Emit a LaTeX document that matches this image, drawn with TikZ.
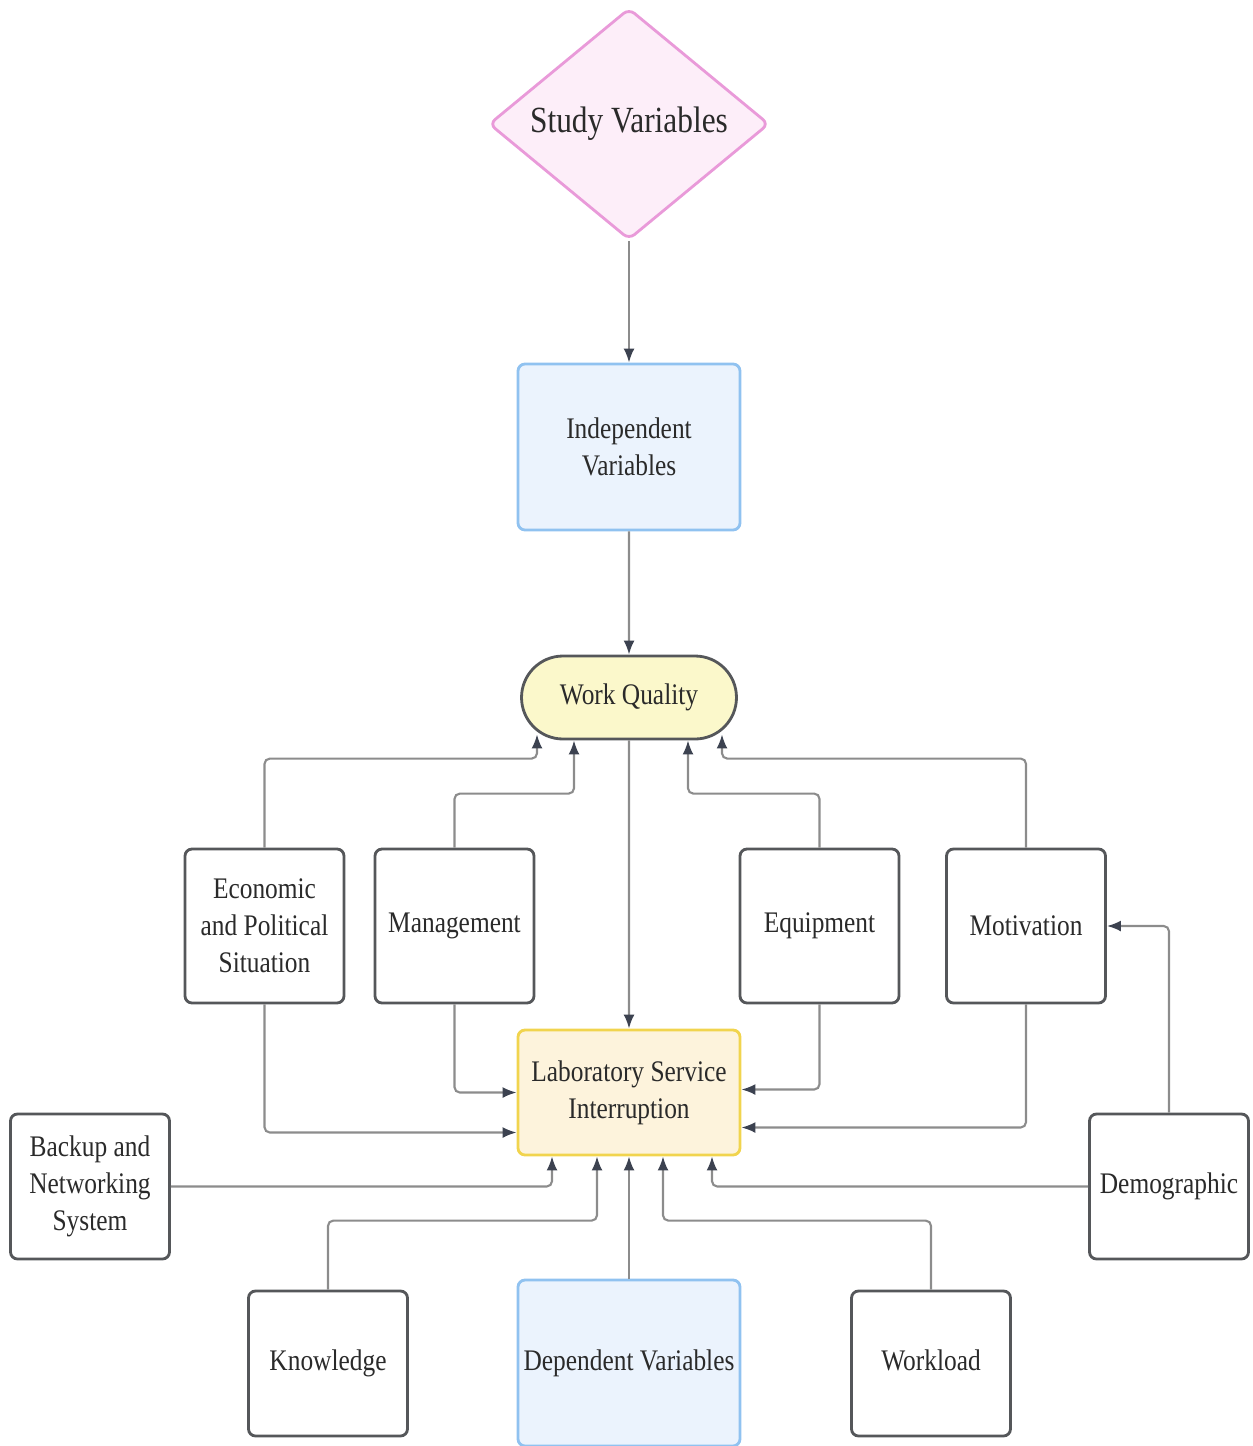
\documentclass[tikz,border=0pt]{standalone}
\usepackage{fontspec}
\setmainfont[FakeStretch=0.85]{Liberation Serif}
\usepackage{xcolor}
\usetikzlibrary{shapes.geometric, shapes.misc, arrows.meta, positioning}
\definecolor{txtgray}{HTML}{2A2A2A}
\definecolor{boxedge}{HTML}{55575A}
\definecolor{linegray}{HTML}{8C8C8C}
\definecolor{tipgray}{HTML}{3C4250}
\definecolor{pinkfill}{HTML}{FDEEF9}
\definecolor{pinkedge}{HTML}{E99AD9}
\definecolor{bluefill}{HTML}{EBF3FD}
\definecolor{blueedge}{HTML}{90C2F0}
\definecolor{wqfill}{HTML}{FBF8CB}
\definecolor{labfill}{HTML}{FDF3DC}
\definecolor{labedge}{HTML}{F1D44E}
\tikzset{
  font=\fontsize{8.5}{10.5}\selectfont,      % narrow serif labels
  every node/.style = {text=txtgray},
  studyshape/.style = {diamond, draw=pinkedge, fill=pinkfill, line width=0.8pt,
                       rounded corners=2pt, minimum width=28mm, minimum height=22.8mm,
                       inner sep=0pt, font=\fontsize{10.5}{12.5}\selectfont},
  bluebox/.style    = {rectangle, draw=blueedge, fill=bluefill, line width=0.8pt,
                       rounded corners=2pt, minimum width=22.2mm, minimum height=16.6mm,
                       align=center, inner sep=1pt},
  wqpill/.style     = {rounded rectangle, draw=boxedge, fill=wqfill, line width=0.8pt,
                       minimum width=22.2mm, minimum height=8.3mm, inner sep=1pt},
  labbox/.style     = {rectangle, draw=labedge, fill=labfill, line width=0.8pt,
                       rounded corners=2pt, minimum width=22.2mm, minimum height=12.5mm,
                       align=center, inner sep=1pt},
  factor/.style     = {rectangle, draw=boxedge, fill=white, line width=0.8pt,
                       rounded corners=2pt, minimum width=15.9mm, minimum height=15.4mm,
                       align=center, inner sep=1pt},
  lowfactor/.style  = {factor, minimum height=14.5mm},
  conn/.style       = {draw=linegray, line width=0.6pt, rounded corners=1.5pt,
                       -{Latex[length=1.4mm, width=1.1mm, color=tipgray]}}
}
\begin{document}
\begin{tikzpicture}
  \useasboundingbox (0,0) rectangle (12.52,-14.46);
  % top chain
  \node[studyshape] (study) at (6.29,-1.24) {Study Variables};
  \node[bluebox] (indep) at (6.29,-4.47) {Independent\\Variables};
  \node[wqpill] (wq) at (6.29,-6.975) {Work Quality};
  \node[labbox] (lab) at (6.29,-10.925) {Laboratory Service\\Interruption};
  % factors
  \node[factor] (econ) at (2.645,-9.26) {Economic\\and Political\\Situation};
  \node[factor] (mgmt) at (4.545,-9.26) {Management};
  \node[factor] (equip) at (8.195,-9.26) {Equipment};
  \node[factor] (motiv) at (10.26,-9.26) {Motivation};
  \node[lowfactor] (backup) at (0.90,-11.865) {Backup and\\Networking\\System};
  \node[lowfactor] (demog) at (11.69,-11.865) {Demographic};
  \node[lowfactor] (know) at (3.28,-13.635) {Knowledge};
  \node[bluebox] (dep) at (6.29,-13.63) {Dependent Variables};
  \node[lowfactor] (workl) at (9.31,-13.635) {\raisebox{0.6mm}{Workload}};

  \draw[conn] (study) -- (indep);
  \draw[conn] (indep) -- (wq);
  \draw[conn] (wq) -- (lab);
  % into work quality
  \draw[conn] (econ.north) -- ++(0,0.89) -| ([xshift=-9.2mm,yshift=0.6mm]wq.south);
  \draw[conn] (mgmt.north) -- ++(0,0.54) -| ([xshift=-5.5mm]wq.south);
  \draw[conn] (equip.north) -- ++(0,0.54) -| ([xshift=5.9mm]wq.south);
  \draw[conn] (motiv.north) -- ++(0,0.89) -| ([xshift=9.3mm,yshift=0.6mm]wq.south);
  % into laboratory service interruption
  \draw[conn] (econ.south) |- ([yshift=-4mm]lab.west);
  \draw[conn] (mgmt.south) |- (lab.west);
  \draw[conn] (equip.south) |- ([yshift=0.3mm]lab.east);
  \draw[conn] (motiv.south) |- ([yshift=-3.5mm]lab.east);
  \draw[conn] (backup.east) -| ([xshift=-7.7mm]lab.south);
  \draw[conn] (know.north) -- ++(0,0.69) -| ([xshift=-3.2mm]lab.south);
  \draw[conn] (dep.north) -- (lab.south);
  \draw[conn] (workl.north) -- ++(0,0.69) -| ([xshift=3.4mm]lab.south);
  \draw[conn] (demog.west) -| ([xshift=8.3mm]lab.south);
  \draw[conn] (demog.north) |- (motiv.east);
\end{tikzpicture}
\end{document}
